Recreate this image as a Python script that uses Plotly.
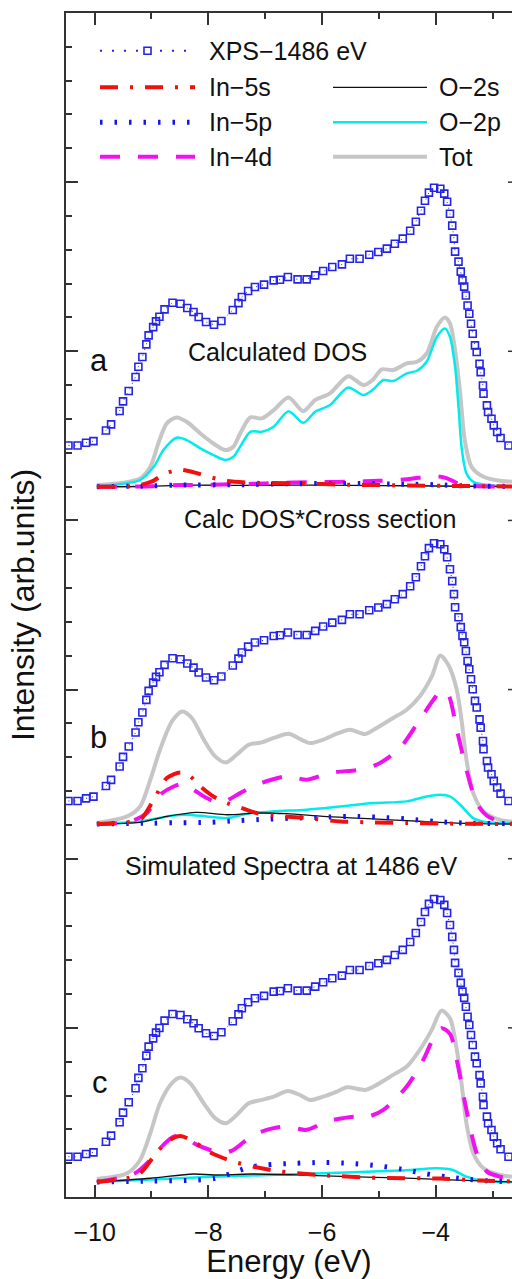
import plotly.graph_objects as go

# ---------------------------------------------------------------------------
# Experimental XPS valence band (1486 eV), intensity in arb. units
# ---------------------------------------------------------------------------
xps_energy = [-10.46, -10.30, -10.15, -10.02, -9.80, -9.71, -9.56, -9.50, -9.40, -9.28,
              -9.23, -9.16, -9.09, -9.05, -8.97, -8.92, -8.86, -8.77, -8.63, -8.49,
              -8.37, -8.26, -8.17, -8.04, -7.90, -7.77, -7.57, -7.47, -7.41, -7.30,
              -7.18, -7.02, -6.85, -6.74, -6.60, -6.43, -6.27, -6.12, -5.98, -5.82,
              -5.65, -5.51, -5.34, -5.17, -5.01, -4.86, -4.72, -4.58, -4.45, -4.35,
              -4.26, -4.19, -4.12, -4.03, -3.92, -3.85, -3.80, -3.75, -3.71, -3.68,
              -3.66, -3.60, -3.56, -3.53, -3.50, -3.47, -3.44, -3.41, -3.38, -3.35,
              -3.31, -3.28, -3.23, -3.21, -3.17, -3.16, -3.10, -3.08, -3.02, -2.98,
              -2.92, -2.86, -2.72]
xps_intensity = [0.238, 0.238, 0.254, 0.264, 0.327, 0.363, 0.442, 0.499, 0.560, 0.643,
                 0.704, 0.761, 0.836, 0.889, 0.938, 0.972, 0.999, 1.043, 1.082, 1.076,
                 1.051, 1.027, 0.998, 0.968, 0.952, 0.974, 1.039, 1.080, 1.116, 1.151,
                 1.175, 1.189, 1.214, 1.218, 1.234, 1.220, 1.220, 1.244, 1.270, 1.293,
                 1.309, 1.342, 1.342, 1.366, 1.382, 1.402, 1.431, 1.461, 1.508, 1.561,
                 1.626, 1.685, 1.733, 1.762, 1.756, 1.727, 1.679, 1.608, 1.538, 1.461,
                 1.384, 1.325, 1.266, 1.214, 1.177, 1.125, 1.066, 1.017, 0.958, 0.899,
                 0.830, 0.791, 0.721, 0.672, 0.593, 0.544, 0.475, 0.436, 0.396, 0.357,
                 0.318, 0.282, 0.238]

# vertical stacking of the three panels
panel_names = ["a", "b", "c"]
xps_shift = [4.205, 2.103, 0.0]
dos_base = [4.199, 2.205, 0.089]

# ---------------------------------------------------------------------------
# (a) Calculated DOS
# ---------------------------------------------------------------------------
a_tot_e = [-9.96, -9.49, -9.20, -9.02, -8.88, -8.73, -8.56, -8.38, -8.14, -7.91, -7.70, -7.56,
           -7.44, -7.26, -7.06, -6.85, -6.59, -6.33, -6.12, -5.86, -5.54, -5.27, -5.10, -4.95,
           -4.75, -4.51, -4.33, -4.16, -3.98, -3.84, -3.75, -3.66, -3.57, -3.49, -3.37, -3.16,
           -2.87, -2.66]
a_tot_v = [0.010, 0.024, 0.049, 0.118, 0.256, 0.375, 0.410, 0.384, 0.315, 0.256, 0.217, 0.237,
           0.315, 0.410, 0.404, 0.453, 0.528, 0.447, 0.513, 0.552, 0.654, 0.601, 0.635, 0.694,
           0.690, 0.729, 0.739, 0.788, 0.946, 1.001, 0.966, 0.808, 0.552, 0.276, 0.118, 0.059,
           0.035, 0.030]
a_o2p_e = [-9.96, -9.20, -8.96, -8.79, -8.56, -8.38, -8.14, -7.91, -7.70, -7.56, -7.44, -7.26,
           -7.06, -6.85, -6.59, -6.33, -6.12, -5.86, -5.54, -5.27, -5.10, -4.92, -4.75, -4.51,
           -4.33, -4.16, -3.98, -3.84, -3.75, -3.66, -3.60, -3.54, -3.46, -3.34, -3.16, -2.87,
           -2.66]
a_o2p_v = [0.004, 0.040, 0.118, 0.217, 0.290, 0.276, 0.227, 0.187, 0.158, 0.177, 0.237, 0.325,
           0.325, 0.355, 0.447, 0.378, 0.444, 0.483, 0.587, 0.542, 0.576, 0.631, 0.625, 0.670,
           0.686, 0.739, 0.887, 0.936, 0.887, 0.710, 0.473, 0.217, 0.079, 0.030, 0.014, 0.004,
           0.0]
a_o2s_e = [-9.96, -9.0, -8.3, -7.5, -6.5, -5.5, -4.5, -3.5, -2.66]
a_o2s_v = [0.0, 0.003, 0.010, 0.008, 0.010, 0.008, 0.006, 0.003, 0.001]
a_in4d_e = [-9.96, -9.0, -8.5, -8.0, -7.5, -7.0, -6.5, -6.0, -5.5, -5.0, -4.5, -4.0, -3.8, -3.6,
            -3.3, -2.66]
a_in4d_v = [0.0, 0.003, 0.010, 0.012, 0.015, 0.020, 0.025, 0.028, 0.030, 0.035, 0.045, 0.063,
            0.050, 0.020, 0.005, 0.002]
a_in5p_e = [-9.96, -9.0, -8.5, -7.5, -6.5, -5.5, -4.5, -4.0, -3.5, -2.66]
a_in5p_v = [0.0, 0.005, 0.010, 0.012, 0.018, 0.020, 0.015, 0.012, 0.005, 0.002]
a_in5s_e = [-9.96, -9.3, -9.0, -8.75, -8.5, -8.25, -8.0, -7.7, -7.3, -6.5, -5.5, -4.5, -3.8,
            -3.0, -2.66]
a_in5s_v = [0.0, 0.005, 0.030, 0.080, 0.100, 0.085, 0.060, 0.035, 0.025, 0.020, 0.012, 0.008,
            0.005, 0.003, 0.002]

# ---------------------------------------------------------------------------
# (b) Calculated DOS weighted by photo-ionisation cross section
# ---------------------------------------------------------------------------
b_tot_e = [-9.96, -9.43, -9.20, -9.02, -8.85, -8.64, -8.46, -8.29, -8.08, -7.88, -7.69, -7.50,
           -7.29, -7.06, -6.85, -6.59, -6.39, -6.21, -5.98, -5.74, -5.51, -5.24, -5.04, -4.75,
           -4.51, -4.28, -4.07, -3.92, -3.78, -3.63, -3.54, -3.46, -3.34, -3.16, -2.87, -2.66]
b_tot_v = [0.006, 0.045, 0.104, 0.262, 0.439, 0.607, 0.666, 0.627, 0.499, 0.400, 0.364, 0.410,
           0.469, 0.483, 0.509, 0.534, 0.503, 0.479, 0.499, 0.534, 0.558, 0.532, 0.568, 0.627,
           0.676, 0.755, 0.873, 0.997, 0.942, 0.794, 0.597, 0.380, 0.183, 0.075, 0.025, 0.015]
b_in4d_e = [-9.96, -9.37, -9.08, -8.85, -8.61, -8.44, -8.26, -8.03, -7.79, -7.44, -7.15, -6.62,
            -6.27, -5.86, -5.27, -4.98, -4.63, -4.28, -4.04, -3.90, -3.78, -3.63, -3.46, -3.28,
            -3.10, -2.87, -2.66]
b_in4d_v = [0.0, 0.015, 0.065, 0.173, 0.222, 0.238, 0.203, 0.154, 0.124, 0.183, 0.232, 0.282,
            0.262, 0.302, 0.325, 0.361, 0.449, 0.617, 0.735, 0.790, 0.765, 0.558, 0.321, 0.124,
            0.049, 0.015, 0.006]
b_in5s_e = [-9.96, -9.43, -9.20, -8.96, -8.73, -8.49, -8.32, -8.14, -7.91, -7.67, -7.44, -7.15,
            -6.85, -6.27, -5.68, -5.10, -4.51, -3.92, -2.66]
b_in5s_v = [0.0, 0.010, 0.025, 0.144, 0.272, 0.305, 0.282, 0.222, 0.163, 0.124, 0.098, 0.065,
            0.051, 0.035, 0.015, 0.010, 0.006, 0.003, 0.0]
b_o2p_e = [-9.96, -9.20, -8.61, -8.38, -8.03, -7.67, -7.32, -6.85, -6.27, -5.68, -5.10, -4.51,
           -4.16, -3.92, -3.75, -3.57, -3.34, -3.10, -2.66]
b_o2p_v = [0.0, 0.015, 0.051, 0.055, 0.045, 0.035, 0.061, 0.075, 0.085, 0.104, 0.124, 0.134,
           0.163, 0.173, 0.163, 0.114, 0.035, 0.010, 0.006]
b_o2s_e = [-9.96, -9.20, -8.73, -8.20, -7.67, -7.15, -6.62, -5.98, -5.39, -4.80, -4.22, -3.63,
           -2.66]
b_o2s_v = [0.0, 0.010, 0.045, 0.069, 0.055, 0.065, 0.061, 0.045, 0.035, 0.025, 0.015, 0.006,
           0.0]
b_in5p_e = [-9.96, -9.0, -8.5, -8.0, -7.5, -7.0, -6.5, -6.0, -5.5, -5.0, -4.5, -4.0, -3.5,
            -2.66]
b_in5p_v = [0.0, 0.005, 0.008, 0.010, 0.020, 0.028, 0.035, 0.040, 0.045, 0.040, 0.030, 0.015,
            0.006, 0.002]

# ---------------------------------------------------------------------------
# (c) Simulated spectra at 1486 eV
# ---------------------------------------------------------------------------
c_tot_e = [-9.96, -9.43, -9.20, -9.02, -8.85, -8.64, -8.49, -8.32, -8.08, -7.88, -7.69, -7.50,
           -7.29, -7.06, -6.85, -6.60, -6.39, -6.21, -5.98, -5.74, -5.56, -5.24, -5.04, -4.75,
           -4.51, -4.28, -4.07, -3.90, -3.75, -3.63, -3.54, -3.46, -3.34, -3.16, -2.87, -2.66]
c_tot_v = [0.018, 0.051, 0.130, 0.288, 0.465, 0.584, 0.617, 0.584, 0.465, 0.377, 0.347, 0.396,
           0.465, 0.485, 0.504, 0.538, 0.514, 0.485, 0.504, 0.534, 0.560, 0.544, 0.574, 0.633,
           0.682, 0.781, 0.899, 1.013, 0.968, 0.781, 0.564, 0.347, 0.170, 0.081, 0.041, 0.031]
c_in4d_e = [-9.96, -9.29, -9.02, -8.79, -8.61, -8.44, -8.20, -7.97, -7.76, -7.56, -7.21, -6.85,
            -6.60, -6.27, -5.92, -5.45, -5.19, -4.92, -4.51, -4.22, -4.04, -3.90, -3.75, -3.63,
            -3.46, -3.28, -3.10, -2.87, -2.66]
c_in4d_v = [0.0, 0.051, 0.130, 0.219, 0.268, 0.268, 0.219, 0.189, 0.170, 0.189, 0.278, 0.318,
            0.327, 0.308, 0.357, 0.386, 0.386, 0.426, 0.564, 0.721, 0.850, 0.909, 0.875, 0.721,
            0.426, 0.170, 0.061, 0.031, 0.022]
c_in5s_e = [-9.96, -9.43, -9.20, -8.96, -8.73, -8.49, -8.26, -8.03, -7.91, -7.56, -7.20, -6.80,
            -6.03, -5.00, -3.90, -3.20, -2.66]
c_in5s_v = [0.0, 0.022, 0.051, 0.150, 0.238, 0.272, 0.238, 0.189, 0.165, 0.120, 0.090, 0.065,
            0.041, 0.024, 0.020, 0.008, 0.003]
c_in5p_e = [-9.96, -9.0, -8.3, -7.9, -7.6, -7.3, -7.0, -6.5, -6.0, -5.5, -5.0, -4.5, -4.2, -3.8,
            -3.4, -3.0, -2.66]
c_in5p_v = [0.0, 0.005, 0.010, 0.020, 0.050, 0.085, 0.100, 0.110, 0.115, 0.110, 0.095, 0.070,
            0.050, 0.030, 0.015, 0.005, 0.002]
c_o2p_e = [-9.96, -8.14, -6.38, -4.63, -3.98, -3.70, -3.46, -3.17, -2.66]
c_o2p_v = [0.0, 0.028, 0.047, 0.067, 0.081, 0.071, 0.031, 0.006, 0.0]
c_o2s_e = [-9.96, -9.02, -8.26, -7.90, -7.26, -6.38, -5.51, -4.63, -3.75, -2.66]
c_o2s_v = [0.0, 0.022, 0.047, 0.041, 0.047, 0.041, 0.031, 0.024, 0.012, 0.0]

# ---------------------------------------------------------------------------
# line styles per projected component
# ---------------------------------------------------------------------------
XPS_BLUE = "#2424e8"
styles = {
    "Tot":   dict(color="#c6c6c6", width=4, dash="solid"),
    "O-2p":  dict(color="#00ecec", width=2.5, dash="solid"),
    "O-2s":  dict(color="#111111", width=1.3, dash="solid"),
    "In-4d": dict(color="#f010f0", width=4, dash="20px,18px"),
    "In-5p": dict(color="#1414f0", width=5, dash="2.5px,12px"),
    "In-5s": dict(color="#f01010", width=4, dash="18px,12px,3px,12px"),
}
draw_order = ["Tot", "O-2p", "O-2s", "In-4d", "In-5p", "In-5s"]

panels = {
    "a": {"Tot": (a_tot_e, a_tot_v), "O-2p": (a_o2p_e, a_o2p_v), "O-2s": (a_o2s_e, a_o2s_v),
          "In-4d": (a_in4d_e, a_in4d_v), "In-5p": (a_in5p_e, a_in5p_v), "In-5s": (a_in5s_e, a_in5s_v)},
    "b": {"Tot": (b_tot_e, b_tot_v), "O-2p": (b_o2p_e, b_o2p_v), "O-2s": (b_o2s_e, b_o2s_v),
          "In-4d": (b_in4d_e, b_in4d_v), "In-5p": (b_in5p_e, b_in5p_v), "In-5s": (b_in5s_e, b_in5s_v)},
    "c": {"Tot": (c_tot_e, c_tot_v), "O-2p": (c_o2p_e, c_o2p_v), "O-2s": (c_o2s_e, c_o2s_v),
          "In-4d": (c_in4d_e, c_in4d_v), "In-5p": (c_in5p_e, c_in5p_v), "In-5s": (c_in5s_e, c_in5s_v)},
}

fig = go.Figure()

for p, name in enumerate(panel_names):
    base = dos_base[p]
    for comp in draw_order:
        e, v = panels[name][comp]
        st = styles[comp]
        fig.add_trace(go.Scatter(
            x=e, y=[base + val for val in v], mode="lines", name=comp,
            line=dict(color=st["color"], width=st["width"], dash=st["dash"],
                      shape="spline", smoothing=0.8),
            showlegend=False, hoverinfo="skip"))
    fig.add_trace(go.Scatter(
        x=xps_energy, y=[xps_shift[p] + val for val in xps_intensity],
        mode="lines+markers", name="XPS\u22121486 eV",
        line=dict(color=XPS_BLUE, width=1, dash="1px,5px"),
        marker=dict(symbol="square-open", size=7, color=XPS_BLUE, line=dict(width=1.6, color=XPS_BLUE)),
        cliponaxis=False, showlegend=False, hoverinfo="skip"))

# ---------------------------------------------------------------------------
# layout geometry
# ---------------------------------------------------------------------------
W, H = 512, 1279
ML, MR, MT, MB = 66, 0, 13, 82
PW = W - ML - MR
PH = H - MT - MB
AXIS_COL = "#333333"
FONT = "Liberation Sans, Arial, Helvetica, sans-serif"


def px(xp):
    return (xp - ML) / PW


def py(yp):
    return (H - MB - yp) / PH


shapes = []
annotations = []

# right frame ticks (major only)
for yv in range(1, 7):
    shapes.append(dict(type="line", xref="paper", yref="y", x0=1 - 4 / PW, x1=1, y0=yv, y1=yv,
                       line=dict(color=AXIS_COL, width=1.5)))

# hand-placed legend in two columns
legend_rows = [
    ("XPS\u22121486 eV", None, 50.7, 0),
    ("In\u22125s", "In-5s", 87.3, 0),
    ("In\u22125p", "In-5p", 122.3, 0),
    ("In\u22124d", "In-4d", 156.7, 0),
    ("O\u22122s", "O-2s", 87.3, 1),
    ("O\u22122p", "O-2p", 122.3, 1),
    ("Tot", "Tot", 156.7, 1),
]
col_line = [(100, 195), (333, 427)]
col_text = [207, 437]
for label, comp, ypix, col in legend_rows:
    x0, x1 = col_line[col]
    if comp is None:
        shapes.append(dict(type="line", xref="paper", yref="paper", x0=px(x0), x1=px(x1),
                           y0=py(ypix), y1=py(ypix),
                           line=dict(color=XPS_BLUE, width=2, dash="2px,10px")))
        shapes.append(dict(type="rect", xref="paper", yref="paper", xsizemode="pixel",
                           ysizemode="pixel", xanchor=px((x0 + x1) / 2), yanchor=py(ypix),
                           x0=-3.5, x1=3.5, y0=-3.5, y1=3.5, fillcolor="white",
                           line=dict(color=XPS_BLUE, width=1.6)))
    else:
        st = styles[comp]
        shapes.append(dict(type="line", xref="paper", yref="paper", x0=px(x0), x1=px(x1),
                           y0=py(ypix), y1=py(ypix),
                           line=dict(color=st["color"], width=st["width"], dash=st["dash"])))
    annotations.append(dict(text=label, xref="paper", yref="paper", x=px(col_text[col]),
                            y=py(ypix), xanchor="left", yanchor="middle", showarrow=False,
                            font=dict(size=25, color="#111111", family=FONT)))

# panel captions and letters
captions = [
    ("Calculated DOS", 277, 352, 25),
    ("Calc DOS*Cross section", 320, 519, 25),
    ("Simulated Spectra at 1486 eV", 291, 866, 25),
    ("a", 99, 360, 31),
    ("b", 98, 737, 31),
    ("c", 100, 1082, 31),
]
for txt, xpix, ypix, fs in captions:
    annotations.append(dict(text=txt, xref="paper", yref="paper", x=px(xpix), y=py(ypix),
                            xanchor="center", yanchor="middle", showarrow=False,
                            font=dict(size=fs, color="#111111", family=FONT)))

fig.update_layout(
    width=W, height=H,
    margin=dict(l=ML, r=MR, t=MT, b=MB, pad=0),
    paper_bgcolor="white", plot_bgcolor="white",
    showlegend=False,
    font=dict(family=FONT, color="#111111"),
    shapes=shapes, annotations=annotations,
    xaxis=dict(
        range=[-10.503, -2.659], tickmode="array", tickvals=[-10, -8, -6, -4],
        ticks="inside", ticklen=12, tickwidth=1.5, tickcolor=AXIS_COL,
        showline=True, linewidth=1.6, linecolor=AXIS_COL, mirror="ticks",
        showgrid=False, zeroline=False,
        tickfont=dict(size=25, color="#111111", family=FONT),
        ticklabelstandoff=12,
        minor=dict(ticks="inside", ticklen=6, tickwidth=1.5, tickcolor=AXIS_COL,
                   tickmode="array", tickvals=[-9, -7, -5, -3], showgrid=False),
        title=dict(text="Energy (eV)", font=dict(size=31, color="#111111", family=FONT),
                   standoff=11),
        automargin=False,
    ),
    yaxis=dict(
        range=[0, 7], tick0=0, dtick=1,
        ticks="inside", ticklen=12, tickwidth=1.5, tickcolor=AXIS_COL,
        showline=True, linewidth=1.6, linecolor=AXIS_COL, mirror=False,
        showgrid=False, zeroline=False, showticklabels=False,
        minor=dict(ticks="inside", ticklen=6, tickwidth=1.5, tickcolor=AXIS_COL,
                   dtick=0.2, showgrid=False),
        title=dict(text="Intensity (arb.units)", font=dict(size=32, color="#111111", family=FONT),
                   standoff=20),
        automargin=False,
    ),
)

fig.write_html("out.html")
